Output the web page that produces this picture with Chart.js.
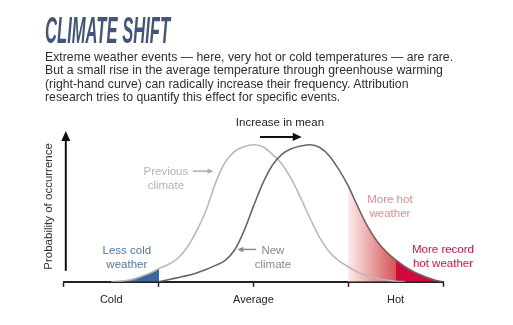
<!DOCTYPE html>
<html>
<head>
<meta charset="utf-8">
<script src="https://cdn.jsdelivr.net/npm/chart.js@4.4.1/dist/chart.umd.min.js"></script>
<style>
  body{margin:0;width:513px;height:325px;overflow:hidden;background:#fff;position:relative;font-family:"Liberation Sans",Arial,sans-serif;}
  #c{position:absolute;left:0;top:0;}
  #title{position:absolute;left:45px;top:13px;font-size:36px;line-height:36px;font-weight:bold;font-style:italic;color:#44557a;white-space:nowrap;transform-origin:0 0;}
  #intro{position:absolute;left:45px;top:49.5px;font-size:13px;line-height:13.5px;color:#2e2e2e;white-space:nowrap;transform-origin:0 0;}
  .lbl{position:absolute;white-space:nowrap;font-size:11.5px;line-height:14px;text-align:center;transform:translate(-50%,-50%);}
</style>
</head>
<body>
<canvas id="c" width="513" height="325"></canvas>
<div id="title">CLIMATE SHIFT</div>
<div id="intro">
  <div id="l1">Extreme weather events — here, very hot or cold temperatures — are rare.</div>
  <div>But a small rise in the average temperature through greenhouse warming</div>
  <div>(right-hand curve) can radically increase their frequency. Attribution</div>
  <div>research tries to quantify this effect for specific events.</div>
</div>
<script>
// temperature axis, 0 = far cold end, 4 = far hot end
const temps = [0.0,0.1,0.2,0.3,0.4,0.5,0.6,0.7,0.8,0.9,
               1.0,1.1,1.2,1.3,1.4,1.5,1.6,1.7,1.8,1.9,
               2.0,2.1,2.2,2.3,2.4,2.5,2.6,2.7,2.8,2.9,
               3.0,3.1,3.2,3.3,3.4,3.5,3.6,3.7,3.8,3.9,4.0];
// probability of occurrence (peak = 1)
const previous = [null,null,null,null,null,0,0.005,0.015,0.035,0.06,
                  0.095,0.125,0.17,0.25,0.37,0.52,0.72,0.87,0.95,0.985,
                  1.0,0.985,0.93,0.86,0.75,0.61,0.46,0.32,0.22,0.155,
                  0.11,0.07,0.045,0.025,0.012,0.004,0,null,null,null,null];
const newClimate = [null,null,null,null,null,null,null,null,null,null,
                    0,0.015,0.03,0.045,0.065,0.09,0.12,0.155,0.23,0.37,
                    0.55,0.72,0.85,0.93,0.97,0.99,1.0,0.98,0.92,0.82,
                    0.70,0.55,0.41,0.30,0.22,0.16,0.11,0.07,0.04,0.015,0];
const tickValues = [0, 0.5, 1, 2, 3, 3.5, 4];
const tickNames = {0.5:'Cold', 2:'Average', 3.5:'Hot'};
const coldUpTo = 1.0, hotFrom = 3.0, recordFrom = 3.5;

const prevPts = temps.map((t,i) => ({x:t, y:previous[i]}));
const newPts = temps.map((t,i) => ({x:t, y:newClimate[i]}));

const labels = [
  {lines:['Increase in mean'], x:2.28, y:1.164, color:'#222'},
  {lines:['Previous','climate'], x:1.077, y:0.757, color:'#b3b3b3'},
  {lines:['New','climate'], x:2.206, y:0.179, color:'#888'},
  {lines:['Less cold','weather'], x:0.665, y:0.179, color:'#4f77aa'},
  {lines:['More hot','weather'], x:3.44, y:0.55, color:'#e8898d'},
  {lines:['More record','hot weather'], x:4.0, y:0.186, color:'#d3134a'},
];

function pos(chart, v) {
  const {chartArea:a, scales:{x}} = chart;
  return (x.getPixelForValue(v) - a.left) / (a.right - a.left);
}

function coldFill(ctx) {
  const chart = ctx.chart, a = chart.chartArea;
  if (!a) return 'transparent';
  const g = chart.ctx.createLinearGradient(a.left, 0, a.right, 0);
  g.addColorStop(0, '#a9bcd6');
  g.addColorStop(pos(chart, 0.5), '#a9bcd6');
  g.addColorStop(pos(chart, 0.8), '#3b67a0');
  g.addColorStop(pos(chart, coldUpTo), '#3b67a0');
  g.addColorStop(pos(chart, coldUpTo), 'rgba(255,255,255,0)');
  g.addColorStop(1, 'rgba(255,255,255,0)');
  return g;
}

function hotFill(ctx) {
  const chart = ctx.chart, a = chart.chartArea;
  if (!a) return 'transparent';
  const g = chart.ctx.createLinearGradient(a.left, 0, a.right, 0);
  g.addColorStop(0, 'rgba(255,255,255,0)');
  g.addColorStop(pos(chart, hotFrom), 'rgba(255,255,255,0)');
  g.addColorStop(pos(chart, hotFrom), '#fdecea');
  g.addColorStop(pos(chart, recordFrom), '#d8545a');
  g.addColorStop(pos(chart, recordFrom), '#d00a3c');
  g.addColorStop(1, '#d00a3c');
  return g;
}

function arrow(ctx, x1, y1, x2, y2, color, w, head) {
  const ang = Math.atan2(y2-y1, x2-x1);
  ctx.strokeStyle = color; ctx.fillStyle = color; ctx.lineWidth = w;
  ctx.beginPath();
  ctx.moveTo(x1, y1);
  ctx.lineTo(x2 - Math.cos(ang)*head*0.8, y2 - Math.sin(ang)*head*0.8);
  ctx.stroke();
  ctx.beginPath();
  ctx.moveTo(x2, y2);
  ctx.lineTo(x2 - Math.cos(ang)*head + Math.sin(ang)*head*0.45, y2 - Math.sin(ang)*head - Math.cos(ang)*head*0.45);
  ctx.lineTo(x2 - Math.cos(ang)*head - Math.sin(ang)*head*0.45, y2 - Math.sin(ang)*head + Math.cos(ang)*head*0.45);
  ctx.closePath();
  ctx.fill();
}

const annotations = {
  id: 'annotations',
  afterDraw(chart) {
    const {ctx, chartArea:a, scales:{x, y}} = chart;
    ctx.save();
    // y axis with arrow head
    const ax = a.left + 2;
    arrow(ctx, ax, y.getPixelForValue(0.08), ax, a.top, '#111', 2, 10);
    arrow(ctx, x.getPixelForValue(2.07), y.getPixelForValue(1.057), x.getPixelForValue(2.51), y.getPixelForValue(1.057), '#111', 2, 9);
    arrow(ctx, x.getPixelForValue(1.36), y.getPixelForValue(0.807), x.getPixelForValue(1.58), y.getPixelForValue(0.807), '#adadad', 1.5, 6);
    arrow(ctx, x.getPixelForValue(2.03), y.getPixelForValue(0.236), x.getPixelForValue(1.83), y.getPixelForValue(0.236), '#8a8a8a', 1.5, 6);
    ctx.restore();
  },
  afterRender(chart) {
    const {scales:{x, y}} = chart;
    labels.forEach((l, i) => {
      let el = document.getElementById('lbl' + i);
      if (!el) {
        el = document.createElement('div');
        el.id = 'lbl' + i;
        el.className = 'lbl';
        el.style.color = l.color;
        el.innerHTML = l.lines.join('<br>');
        document.body.appendChild(el);
      }
      el.style.left = x.getPixelForValue(l.x) + 'px';
      el.style.top = y.getPixelForValue(l.y) + 'px';
    });
  }
};

new Chart(document.getElementById('c'), {
  type: 'line',
  data: {
    datasets: [
      {data: prevPts, fill: 'origin', backgroundColor: coldFill, borderColor: 'transparent', borderWidth: 0, order: 3},
      {data: newPts, fill: 'origin', backgroundColor: hotFill, borderColor: 'transparent', borderWidth: 0, order: 2},
      {data: prevPts, fill: false, borderColor: '#b9b9b9', borderWidth: 1.6, order: 1},
      {data: newPts, fill: false, borderColor: '#676767', borderWidth: 1.6, order: 0},
    ]
  },
  options: {
    responsive: false,
    animation: false,
    layout: {padding: {left: 38, right: 70, top: 131, bottom: 11}},
    elements: {point: {radius: 0}, line: {cubicInterpolationMode: 'monotone'}},
    plugins: {legend: {display: false}, tooltip: {enabled: false}},
    scales: {
      x: {
        type: 'linear', min: 0, max: 4,
        afterBuildTicks: s => { s.ticks = tickValues.map(v => ({value: v})); },
        ticks: {autoSkip: false, maxRotation: 0, padding: 7, color: '#222', font: {family: 'Liberation Sans', size: 11},
                callback: v => tickNames[v] || ''},
        grid: {drawOnChartArea: false, tickLength: 5, tickWidth: 1.5,
               tickColor: c => (c.tick && Number.isInteger(c.tick.value)) ? '#222' : 'rgba(0,0,0,0)'},
        border: {color: '#222', width: 2}
      },
      y: {
        min: 0, max: 1.1,
        ticks: {display: false},
        grid: {display: false},
        border: {display: false},
        title: {display: true, text: 'Probability of occurrence', color: '#333',
                font: {family: 'Liberation Sans', size: 11.5}, padding: {top: 4, bottom: 0}}
      }
    }
  },
  plugins: [annotations]
});

const title = document.getElementById('title');
title.style.transform = 'scaleX(' + (125 / title.offsetWidth) + ')';
const l1 = document.getElementById('l1');
const intro = document.getElementById('intro');
intro.style.width = 'max-content';
const w = l1.scrollWidth;
intro.style.transform = 'scaleX(' + (408 / w) + ')';
</script>
</body>
</html>
